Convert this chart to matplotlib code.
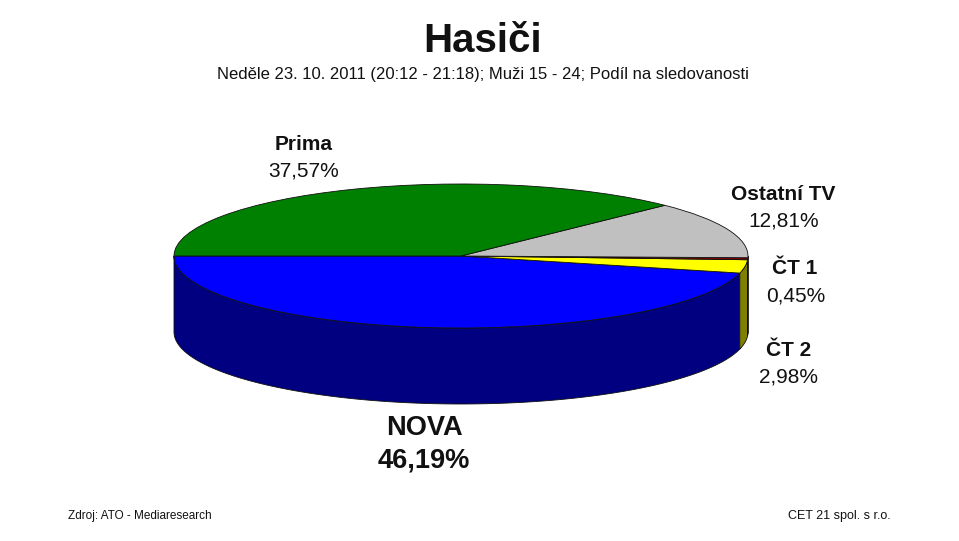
import numpy as np
import matplotlib
matplotlib.use("Agg")
import matplotlib.pyplot as plt

plt.rcParams['font.family'] = ['Liberation Sans', 'DejaVu Sans']

channels = ['NOVA', 'ČT 2', 'ČT 1', 'Ostatní TV', 'Prima']
shares = [46.19, 2.98, 0.45, 12.81, 37.57]
share_labels = ['46,19%', '2,98%', '0,45%', '12,81%', '37,57%']
top_colors = ['#0000ff', '#ffff00', '#800000', '#c0c0c0', '#008000']
side_colors = ['#000080', '#808000', '#400000', '#606060', '#004000']

W, H = 959, 541
# ellipse centre and radii in pixels
cx, cy, rx, ry, depth = 461, 256, 287, 72, 76

fig = plt.figure(figsize=(W / 100, H / 100), dpi=100)
ax = fig.add_axes([0, 0, 1, 1])

# side walls first, only the front half (180..360 deg) can be seen
start = 180.0
for share, col in zip(shares, side_colors):
    end = start + share * 3.6
    a0, a1 = max(start, 180), min(end, 360)
    if a1 > a0:
        t = np.radians(np.linspace(a0, a1, 120))
        x = np.cos(t)
        y = np.sin(t)
        xs = np.concatenate([x, x[::-1]])
        ys = np.concatenate([y, y[::-1] - depth / ry])
        ax.fill(xs, ys, facecolor=col, edgecolor='#101010', lw=0.6, zorder=1)
    start = end

wedges, _ = ax.pie(shares, colors=top_colors, startangle=180, radius=1,
                   wedgeprops={'edgecolor': '#101010', 'linewidth': 0.6})
for w in wedges:
    w.set_zorder(2)

# unit circle -> squashed ellipse in pixel space
ax.set_aspect('auto')
ax.set_xlim(-cx / rx, (W - cx) / rx)
ax.set_ylim(-(H - cy) / ry, cy / ry)
ax.axis('off')


def px_text(x, y, s, size, weight='normal'):
    fig.text(x / W, 1 - y / H, s, fontsize=size, fontweight=weight,
             ha='center', va='center', color='#111111')


px_text(483, 41, 'Hasiči', 29, 'bold')
px_text(483, 75, 'Neděle 23. 10. 2011 (20:12 - 21:18); Muži 15 - 24; Podíl na sledovanosti', 12)

# name x, name y, value x, value y, size
label_pos = [(424, 428, 424, 461, 19.6), (789, 350, 789, 377, 15),
             (795, 268, 796, 296, 15), (783, 194, 784, 221, 15),
             (304, 144, 304, 171, 15)]
for name, val, (x1, y1, x2, y2, size) in zip(channels, share_labels, label_pos):
    px_text(x1, y1, name, size, 'bold')
    px_text(x2, y2, val, size, 'bold' if name == 'NOVA' else 'normal')

px_text(140, 516, 'Zdroj: ATO - Mediaresearch', 8.5)
px_text(839, 516, 'CET 21 spol. s r.o.', 9)

fig.savefig('out.png', dpi=100, facecolor='white')
